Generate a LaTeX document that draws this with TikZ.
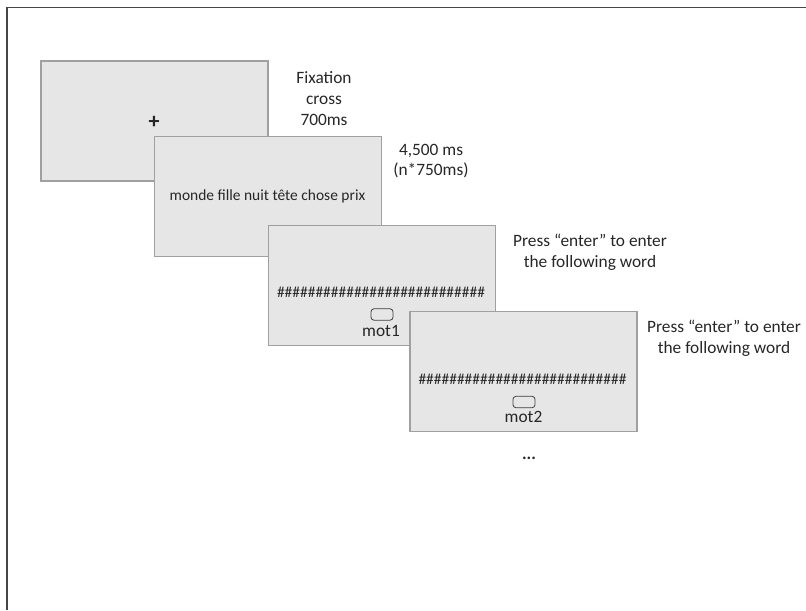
\documentclass[tikz,border=0pt]{standalone}
\usepackage{fontspec}
\setmainfont{Carlito}
\definecolor{scrfill}{RGB}{231,230,230}
\definecolor{scrline}{RGB}{160,160,160}
\definecolor{framecol}{RGB}{70,70,70}
\begin{document}
\begin{tikzpicture}[x=0.75pt,y=-0.75pt,
  screen/.style={draw=scrline,fill=scrfill,line width=0.8pt,minimum width=170.25pt,minimum height=90pt,inner sep=0pt},
  keybox/.style={draw=black!75,fill=scrfill,line width=0.6pt,rounded corners=2.2pt,minimum width=16.5pt,minimum height=8.5pt,inner sep=0pt},
  lab/.style={font=\fontsize{13}{15.5}\selectfont,align=center,inner sep=0pt,text=black!85},
  inner/.style={font=\fontsize{11.6}{14}\selectfont,inner sep=0pt,text=black!85},
  framestyle/.style={draw=framecol,line width=1.1pt}]
\useasboundingbox (0,0) rectangle (806,610);
% outer frame (only top and left visible)
\coordinate (fbl) at (7,610);
\coordinate (ftl) at (7,7.5);
\coordinate (ftr) at (806,7.5);
\draw[framestyle] (fbl) -- (ftl) -- (ftr);
% screens
\node[screen] (s1) at (154.5,121) {};
\node[lab,font=\fontsize{16.5}{18}\selectfont\bfseries] (plus) at (154,122.5) {+};
\node[screen] (s2) at (268,196.3) {};
\node[inner] (words) at (267.5,196) {monde fille nuit tête chose prix};
\node[screen] (s3) at (382,285.2) {};
\node[inner] (h1) at (381,292) {\#\#\#\#\#\#\#\#\#\#\#\#\#\#\#\#\#\#\#\#\#\#\#\#\#\#\#};
\node[keybox] (k1) at (382,314.5) {};
\node[lab] (m1) at (381,331) {mot1};
\node[screen] (s4) at (523.5,371.5) {};
\node[inner] (h2) at (522.5,379) {\#\#\#\#\#\#\#\#\#\#\#\#\#\#\#\#\#\#\#\#\#\#\#\#\#\#\#};
\node[keybox] (k2) at (524,402) {};
\node[lab] (m2) at (523.5,417) {mot2};
\node[lab,font=\fontsize{13}{15.5}\selectfont\bfseries] (dots) at (529,458) {...};
% labels
\node[lab] (t1) at (324,98.5) {Fixation\\cross\\700ms};
\node[lab] (t2) at (431,161) {4,500 ms\\(n*750ms)};
\node[lab] (t3) at (590,252.5) {Press “enter” to enter\\the following word};
\node[lab] (t4) at (724,338) {Press “enter” to enter\\the following word};
\end{tikzpicture}
\end{document}
